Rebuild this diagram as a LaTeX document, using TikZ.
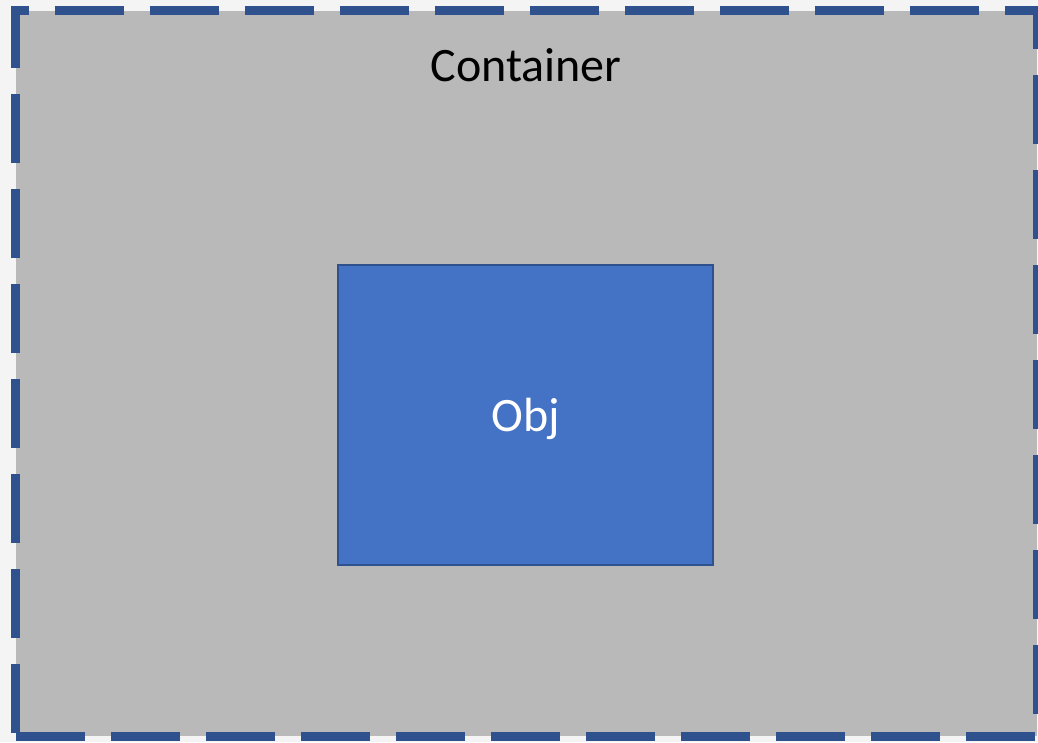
\documentclass[tikz,border=0pt]{standalone}
\usepackage{fontspec}
\setmainfont{Carlito}
\definecolor{bgcol}{RGB}{244,244,244}
\definecolor{contfill}{RGB}{185,185,185}
\definecolor{dashblue}{RGB}{47,82,143}
\definecolor{objfill}{RGB}{68,114,196}
\definecolor{objline}{RGB}{47,82,143}
\begin{document}
\begin{tikzpicture}[x=1pt,y=-1pt,
  contbox/.style={fill=contfill, draw=none, inner sep=0pt, outer sep=0pt},
  dashside/.style={draw=dashblue, line width=9pt, line cap=butt, dash pattern=on 69pt off 26pt},
  objbox/.style={fill=objfill, draw=objline, line width=2pt, inner sep=0pt, outer sep=0pt},
  lbl/.style={font=\fontsize{48}{56}\selectfont, inner sep=0pt}]
\fill[bgcol] (0,0) rectangle (1038,742);
\useasboundingbox (0,0) rectangle (1038,742);
\node[contbox, minimum width=1021.5pt, minimum height=725.5pt] (cont) at (526.25,373.25) {};
\node[objbox, minimum width=375pt, minimum height=300pt] (obj) at (525.5,415) {};
\node[lbl, anchor=base, text=black] (contlbl) at (526,81) {Container};
\node[lbl, anchor=base, text=white] (objlbl) at (525.5,431) {Obj};
% dashed border, side by side
\draw[dashside, dash phase=51.5pt] ([xshift=-4.5pt]cont.north west) -- ([xshift=4.5pt]cont.north east);
\draw[dashside, dash phase=26.5pt] ([yshift=4.5pt]cont.north east) -- (cont.south east);
\draw[dashside, dash phase=88.5pt] ([xshift=4.5pt]cont.south east) -- ([xshift=-4.5pt]cont.south west);
\draw[dashside, dash phase=87.5pt] ([yshift=-4.5pt]cont.south west) -- ([yshift=4.5pt]cont.north west);
\end{tikzpicture}
\end{document}
